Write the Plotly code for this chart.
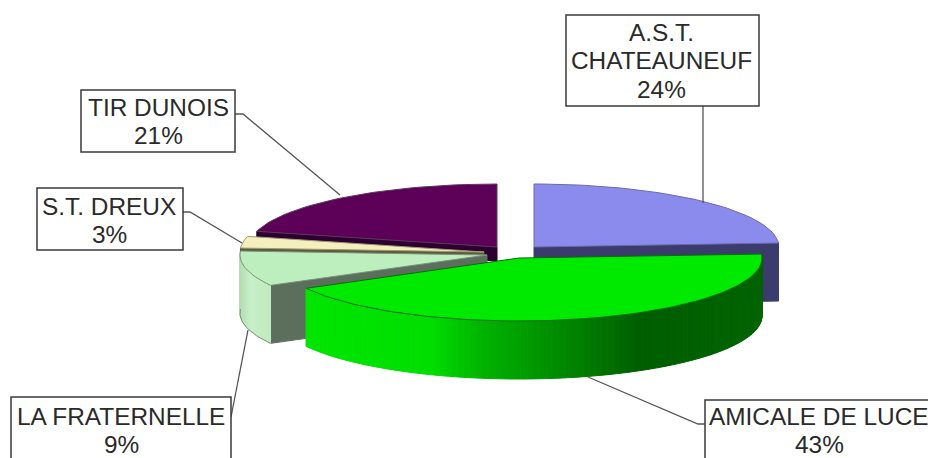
import math
import plotly.graph_objects as go

# ---- data ----
categories = ["A.S.T.\nCHATEAUNEUF", "AMICALE DE LUCE", "LA FRATERNELLE", "S.T. DREUX", "TIR DUNOIS"]
values = [24, 43, 9, 3, 21]

# ---- styling / layout (pixel space of the 928x458 picture) ----
W, H = 928, 458
RY, DEPTH = 63, 58
rx = {"A.S.T.\nCHATEAUNEUF": 245, "AMICALE DE LUCE": 243, "LA FRATERNELLE": 247,
      "S.T. DREUX": 244, "TIR DUNOIS": 248}
apex = {"A.S.T.\nCHATEAUNEUF": (534, 247), "AMICALE DE LUCE": (519, 258), "LA FRATERNELLE": (487, 255),
        "S.T. DREUX": (484, 252), "TIR DUNOIS": (497, 247)}
cut_depth = {"A.S.T.\nCHATEAUNEUF": 58, "AMICALE DE LUCE": 0, "LA FRATERNELLE": 58,
             "S.T. DREUX": 4, "TIR DUNOIS": 14}
top_col = {"A.S.T.\nCHATEAUNEUF": "#8b8bee", "AMICALE DE LUCE": "#00ea00", "LA FRATERNELLE": "#bdeebd",
           "S.T. DREUX": "#f3efbe", "TIR DUNOIS": "#5c0058"}
cut_col = {"A.S.T.\nCHATEAUNEUF": "#3b3b6e", "AMICALE DE LUCE": "#006000", "LA FRATERNELLE": "#5c6e5c",
           "S.T. DREUX": "#5e5a40", "TIR DUNOIS": "#2c0030"}
edge_col = {"A.S.T.\nCHATEAUNEUF": "#6a6aa8", "AMICALE DE LUCE": "#0f6a0f", "LA FRATERNELLE": "#7a947a",
            "S.T. DREUX": "#a09c70", "TIR DUNOIS": "#5a3a5a"}
wall_stops = {
    "AMICALE DE LUCE": [(306, "#00e600"), (430, "#00de00"), (480, "#00b400"), (560, "#008a00"),
                        (640, "#005e00"), (765, "#006400")],
    "LA FRATERNELLE": [(238, "#aedaae"), (250, "#c8f0c8"), (275, "#bee8be")],
}
wall_span = {"AMICALE DE LUCE": (86.4, 241.2), "LA FRATERNELLE": (241.2, 273.6)}
draw_order = ["TIR DUNOIS", "A.S.T.\nCHATEAUNEUF", "S.T. DREUX", "LA FRATERNELLE", "AMICALE DE LUCE"]

box_px = {"A.S.T.\nCHATEAUNEUF": (566, 15, 759, 106), "AMICALE DE LUCE": (705, 400, 960, 490),
          "LA FRATERNELLE": (11, 397, 231, 490), "S.T. DREUX": (37, 188, 183, 250),
          "TIR DUNOIS": (81, 90, 235, 152)}
text_x = {"A.S.T.\nCHATEAUNEUF": 661, "AMICALE DE LUCE": 819, "LA FRATERNELLE": 121,
          "S.T. DREUX": 109, "TIR DUNOIS": 158}
text_y0 = {"A.S.T.\nCHATEAUNEUF": 32, "AMICALE DE LUCE": 416, "LA FRATERNELLE": 416,
           "S.T. DREUX": 206, "TIR DUNOIS": 107}
LINE_H = 28.5
leaders = {"A.S.T.\nCHATEAUNEUF": [(703, 106), (703, 203)],
           "AMICALE DE LUCE": [(705, 424), (698, 424), (588, 377)],
           "LA FRATERNELLE": [(231, 417), (248, 330)],
           "S.T. DREUX": [(183, 212), (190, 212), (242, 243)],
           "TIR DUNOIS": [(235, 114), (243, 114), (340, 195)]}


def hex_rgb(h):
    return tuple(int(h[i:i + 2], 16) for i in (1, 3, 5))


def colour_at(stops, x):
    if x <= stops[0][0]:
        return stops[0][1]
    for (x0, c0), (x1, c1) in zip(stops, stops[1:]):
        if x <= x1:
            t = (x - x0) / (x1 - x0)
            a, b = hex_rgb(c0), hex_rgb(c1)
            return "#%02x%02x%02x" % tuple(round(p + (q - p) * t) for p, q in zip(a, b))
    return stops[-1][1]


def rim(name, deg):
    ax, ay = apex[name]
    r = math.radians(deg)
    return ax + rx[name] * math.sin(r), ay - RY * math.cos(r)


fig = go.Figure()


def poly(pts, fill, line=None, width=1):
    xs = [p[0] for p in pts] + [pts[0][0]]
    ys = [p[1] for p in pts] + [pts[0][1]]
    fig.add_trace(go.Scatter(x=xs, y=ys, mode="lines", fill="toself", fillcolor=fill,
                             line=dict(color=line or fill, width=width), hoverinfo="skip", showlegend=False))


total = sum(values)
angles, run = {}, 0.0
for c, v in zip(categories, values):
    angles[c] = (run, run + v / total * 360)
    run += v / total * 360

for name in draw_order:
    a0, a1 = angles[name]
    ax, ay = apex[name]
    # cut wall on the radial edge that faces the viewer
    d = cut_depth[name]
    if d:
        e = rim(name, a1 if a1 <= 90 else a0)
        poly([(ax, ay), e, (e[0], e[1] + d), (ax, ay + d)], cut_col[name])
    # outer curved wall: segments coloured by horizontal position
    if name in wall_span:
        lo, hi = a0, a1
        n = max(4, int((hi - lo) / 1.5))
        for i in range(n):
            d0 = lo + (hi - lo) * i / n
            d1 = lo + (hi - lo) * (i + 1) / n
            p0, p1 = rim(name, d0), rim(name, d1)
            col = colour_at(wall_stops[name], (p0[0] + p1[0]) / 2)
            poly([p0, p1, (p1[0], p1[1] + DEPTH), (p0[0], p0[1] + DEPTH)], col)
        if name == "LA FRATERNELLE":
            n_pts = [rim(name, lo + (hi - lo) * i / n) for i in range(n + 1)]
            fig.add_trace(go.Scatter(x=[p[0] for p in n_pts], y=[p[1] + DEPTH for p in n_pts], mode="lines",
                                     line=dict(color=edge_col[name], width=1), hoverinfo="skip", showlegend=False))
    # top face
    steps = max(6, int((a1 - a0) / 2))
    arc = [rim(name, a0 + (a1 - a0) * i / steps) for i in range(steps + 1)]
    poly([(ax, ay)] + arc, top_col[name], edge_col[name], 1)

shapes, annotations = [], []
for c, v in zip(categories, values):
    x0, y0, x1, y1 = box_px[c]
    shapes.append(dict(type="rect", xref="x", yref="y", x0=x0, y0=y0, x1=x1, y1=y1,
                       line=dict(color="#3a3a3a", width=1.5), fillcolor="white", layer="above"))
    pts = leaders[c]
    fig.add_trace(go.Scatter(x=[p[0] for p in pts], y=[p[1] for p in pts], mode="lines",
                             line=dict(color="#555555", width=1.3), hoverinfo="skip", showlegend=False))
    lines = c.split("\n") + [f"{round(v / total * 100)}%"]
    for i, t in enumerate(lines):
        annotations.append(dict(text=t, x=text_x[c], y=text_y0[c] + i * LINE_H, xref="x", yref="y",
                                showarrow=False, xanchor="center", yanchor="middle",
                                font=dict(family="Liberation Sans, Arial, sans-serif", size=24.4, color="#2a2a2a")))

fig.update_layout(width=W, height=H, margin=dict(l=0, r=0, t=0, b=0), autosize=False,
                  paper_bgcolor="white", plot_bgcolor="white", showlegend=False,
                  shapes=shapes, annotations=annotations,
                  xaxis=dict(range=[0, W], visible=False, fixedrange=True),
                  yaxis=dict(range=[H, 0], visible=False, fixedrange=True))
fig.write_html("out.html", post_script="document.body.style.margin='0';document.body.style.overflow='hidden';",
               config={"displayModeBar": False})
